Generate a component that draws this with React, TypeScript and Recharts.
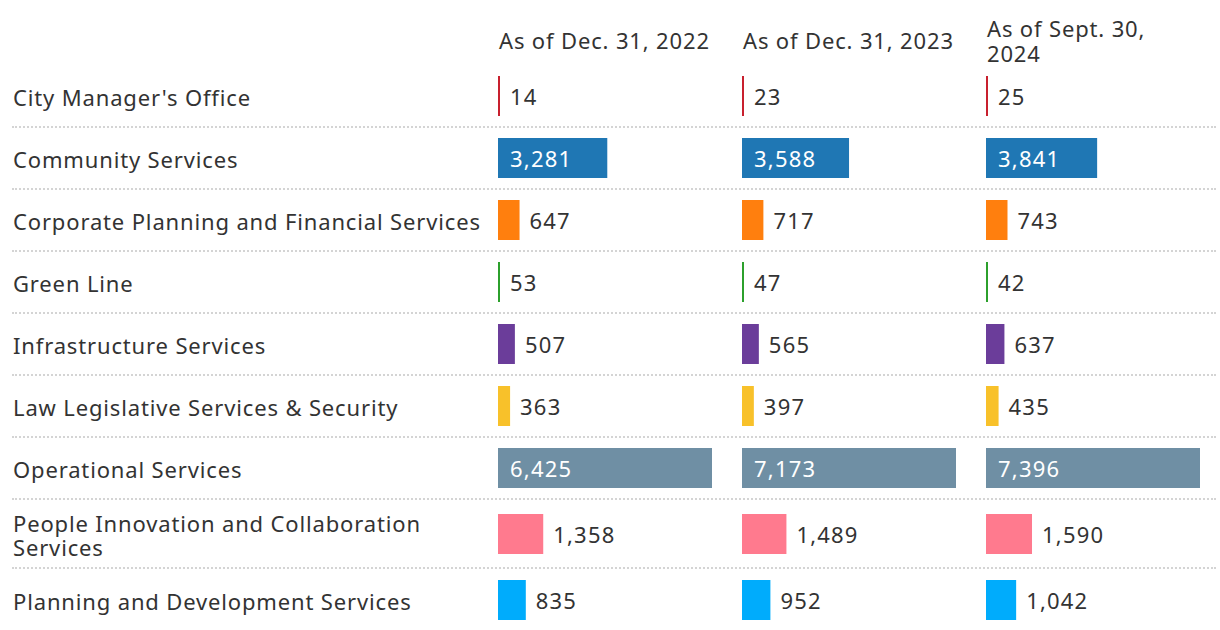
import React from "react";
import { BarChart, Bar, XAxis, YAxis, Cell, LabelList } from "recharts";

const departments = [
  "City Manager's Office",
  "Community Services",
  "Corporate Planning and Financial Services",
  "Green Line",
  "Infrastructure Services",
  "Law Legislative Services & Security",
  "Operational Services",
  "People Innovation and Collaboration Services",
  "Planning and Development Services",
];

const periods = ["As of Dec. 31, 2022", "As of Dec. 31, 2023", "As of Sept. 30, 2024"];

const values2022 = [14, 3281, 647, 53, 507, 363, 6425, 1358, 835];
const values2023 = [23, 3588, 717, 47, 565, 397, 7173, 1489, 952];
const values2024 = [25, 3841, 743, 42, 637, 435, 7396, 1590, 1042];

const deptColors = [
  "#c8202e",
  "#1f77b4",
  "#ff7f0e",
  "#2ca02c",
  "#6b3d9a",
  "#f8c12a",
  "#6f8fa4",
  "#ff7a8e",
  "#00acfc",
];

const columns = [values2022, values2023, values2024];

const FONT = "'Noto Sans', 'Open Sans', sans-serif";
const TEXT = "#333333";
const LABEL_X = 13;
const COL_X = [498, 742, 986];
const BAR_MAX = 214;
const CHART_W = 244;
const TOP_Y = 65;
const TOP_BAND = 62;
const TOP_ROWS = 7;
const BOTTOM_Y = 501;
const BOTTOM_BAND = 66;

const renderValueLabel = (props: any) => {
  const { x, y, width, height, value } = props;
  const text = Number(value).toLocaleString("en-US");
  const inside = width > 80;
  return (
    <text
      x={inside ? x + 12 : x + width + 10}
      y={y + height / 2}
      dy="0.42em"
      fill={inside ? "#ffffff" : TEXT}
      fontSize={22}
      fontFamily={FONT}
      letterSpacing={1.2}
      textAnchor="start"
    >
      {text}
    </text>
  );
};

function ColumnChart({ values, start, end, band, top, left }: any) {
  const max = Math.max(...values);
  const data = departments.slice(start, end).map((name, i) => ({
    name,
    value: values[start + i],
    color: deptColors[start + i],
  }));
  return (
    <div style={{ position: "absolute", left, top }}>
      <BarChart
        layout="vertical"
        width={CHART_W}
        height={band * data.length}
        data={data}
        margin={{ top: 0, right: CHART_W - BAR_MAX, bottom: 0, left: 0 }}
        barCategoryGap={0}
      >
        <XAxis type="number" hide domain={[0, max]} />
        <YAxis type="category" dataKey="name" hide />
        <Bar dataKey="value" barSize={40} minPointSize={2} isAnimationActive={false}>
          {data.map((d, i) => (
            <Cell key={i} fill={d.color} />
          ))}
          <LabelList dataKey="value" content={renderValueLabel} />
        </Bar>
      </BarChart>
    </div>
  );
}

export default function App() {
  const rowCenters = departments.map((_, i) =>
    i < TOP_ROWS
      ? TOP_Y + TOP_BAND * i + TOP_BAND / 2
      : BOTTOM_Y + BOTTOM_BAND * (i - TOP_ROWS) + BOTTOM_BAND / 2
  );
  const separators = [
    ...Array.from({ length: TOP_ROWS }, (_, i) => TOP_Y + TOP_BAND * (i + 1)),
    BOTTOM_Y + BOTTOM_BAND + 1,
  ];
  return (
    <div
      style={{
        position: "absolute",
        left: 0,
        top: 0,
        width: 1220,
        height: 630,
        background: "#ffffff",
        fontFamily: FONT,
        color: TEXT,
        overflow: "hidden",
        letterSpacing: "0.85px",
      }}
    >
      {periods.map((p, c) => (
        <div
          key={p}
          style={{
            position: "absolute",
            left: COL_X[c] + 1,
            top: 15,
            height: 51,
            width: 214,
            display: "flex",
            alignItems: "center",
            fontSize: 22,
            lineHeight: "25px",
          }}
        >
          <span>{p}</span>
        </div>
      ))}

      {separators.map((y, i) => (
        <div
          key={i}
          style={{
            position: "absolute",
            left: 12,
            top: y - 1,
            width: 1204,
            height: 0,
            borderTop: "2px dotted #d4d4d4",
          }}
        />
      ))}

      {departments.map((d, i) => (
        <div
          key={d}
          style={{
            position: "absolute",
            left: LABEL_X,
            top: rowCenters[i] - 30 + 1,
            height: 60,
            width: 482,
            display: "flex",
            alignItems: "center",
            fontSize: 22,
            lineHeight: "24px",
          }}
        >
          <span>{d}</span>
        </div>
      ))}

      {columns.map((vals, c) => (
        <React.Fragment key={c}>
          <ColumnChart values={vals} start={0} end={TOP_ROWS} band={TOP_BAND} top={TOP_Y} left={COL_X[c]} />
          <ColumnChart
            values={vals}
            start={TOP_ROWS}
            end={departments.length}
            band={BOTTOM_BAND}
            top={BOTTOM_Y}
            left={COL_X[c]}
          />
        </React.Fragment>
      ))}
    </div>
  );
}
